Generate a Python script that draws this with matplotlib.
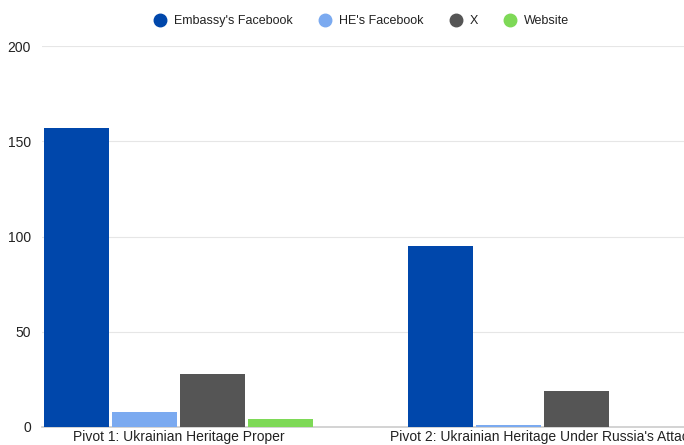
import numpy as np
import matplotlib.pyplot as plt
from matplotlib.lines import Line2D

# Dados
categories = ['Pivot 1: Ukrainian Heritage Proper', "Pivot 2: Ukrainian Heritage Under Russia's Attack"]
series = ["Embassy's Facebook", "HE's Facebook", 'X', 'Website']
embassy_fb = [157, 95]
he_fb = [8, 1]
x_vals = [28, 19]
website = [4, 0]
colors = ['#0047ab', '#7baaf0', '#555555', '#7ed957']

plt.rcParams['font.family'] = ['Liberation Sans', 'DejaVu Sans']

fig = plt.figure(figsize=(6.84, 4.45), dpi=100)
# eixo mais largo que a figura: o lado direito fica cortado como no original
ax = fig.add_axes([42 / 684, 18 / 445, 728 / 684, 381 / 445])

x = np.arange(len(categories))
width = 0.75 / 4
values = [embassy_fb, he_fb, x_vals, website]
for i, (vals, c) in enumerate(zip(values, colors)):
    ax.bar(x - 0.375 + width * (i + 0.5), vals, width * 0.955, color=c, zorder=3)

ax.set_xlim(-0.375, 1.625)
ax.set_ylim(0, 200)
ax.set_yticks([0, 50, 100, 150, 200])
ax.set_xticks(x)
ax.set_xticklabels(categories, fontsize=10, color='#222222')
ax.tick_params(axis='y', labelsize=10, colors='#222222', length=0, pad=8)
ax.tick_params(axis='x', length=0, pad=2)
ax.grid(axis='y', color='#e6e6e6', linewidth=0.8, zorder=0)
for s in ['top', 'right', 'left']:
    ax.spines[s].set_visible(False)
ax.spines['bottom'].set_color('#cccccc')
ax.spines['bottom'].set_linewidth(1.2)

handles = [Line2D([], [], marker='o', linestyle='', markersize=9, color=c) for c in colors]
fig.legend(handles, series, loc='center', bbox_to_anchor=(0.524, 0.953), ncol=4,
           frameon=False, fontsize=9, handletextpad=0.1, columnspacing=1.6,
           labelcolor='#222222')

fig.savefig('out.png', dpi=100)
